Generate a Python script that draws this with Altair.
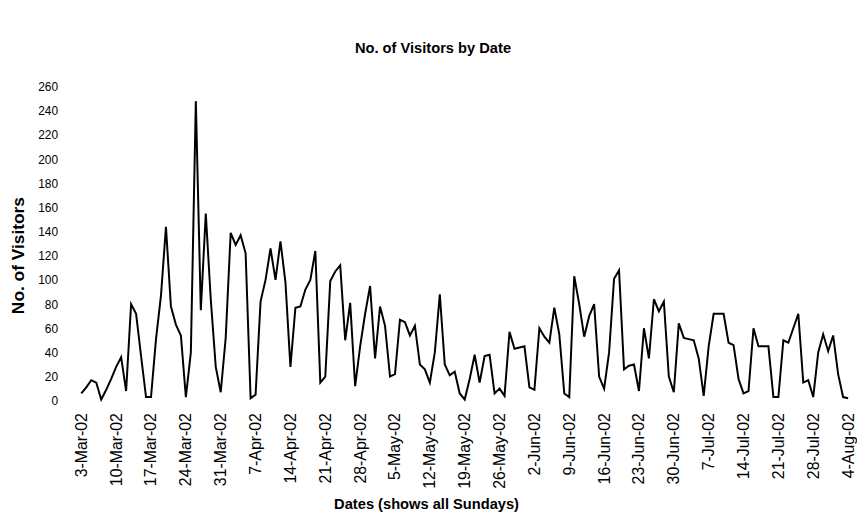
import altair as alt
import pandas as pd

# Daily visitor counts, 3-Mar-2002 .. 4-Aug-2002 (155 days)
visitors = [
    6, 11, 17, 15, 1, 9, 18, 28, 36, 8,          # 3-Mar .. 12-Mar
    80, 72, 37, 3, 3, 51, 87, 144, 78, 63,        # 13-Mar .. 22-Mar
    54, 3, 40, 248, 75, 155, 84, 28, 7, 52,       # 23-Mar .. 1-Apr
    139, 129, 137, 122, 2, 5, 82, 100, 126, 100,  # 2-Apr .. 11-Apr
    132, 98, 28, 77, 78, 92, 100, 124, 15, 20,    # 12-Apr .. 21-Apr
    99, 107, 112, 50, 81, 12, 45, 72, 95, 35,     # 22-Apr .. 1-May
    78, 62, 20, 22, 67, 65, 54, 62, 30, 26,       # 2-May .. 11-May
    15, 40, 88, 30, 21, 24, 6, 1, 18, 38,         # 12-May .. 21-May
    15, 37, 38, 6, 10, 4, 57, 43, 44, 45,         # 22-May .. 31-May
    11, 9, 60, 53, 48, 77, 55, 6, 3, 103,         # 1-Jun .. 10-Jun
    80, 53, 70, 80, 20, 10, 40, 101, 108, 26,     # 11-Jun .. 20-Jun
    29, 30, 8, 60, 35, 84, 74, 82, 20, 7,         # 21-Jun .. 30-Jun
    64, 52, 51, 50, 35, 4, 45, 72, 72, 72,        # 1-Jul .. 10-Jul
    48, 46, 18, 6, 8, 60, 45, 45, 45, 3,          # 11-Jul .. 20-Jul
    3, 50, 48, 60, 72, 15, 17, 3, 40, 55,         # 21-Jul .. 30-Jul
    41, 54, 22, 3, 2,                             # 31-Jul .. 4-Aug
]
day_index = list(range(len(visitors)))

sunday_labels = [
    "3-Mar-02", "10-Mar-02", "17-Mar-02", "24-Mar-02", "31-Mar-02",
    "7-Apr-02", "14-Apr-02", "21-Apr-02", "28-Apr-02", "5-May-02",
    "12-May-02", "19-May-02", "26-May-02", "2-Jun-02", "9-Jun-02",
    "16-Jun-02", "23-Jun-02", "30-Jun-02", "7-Jul-02", "14-Jul-02",
    "21-Jul-02", "28-Jul-02", "4-Aug-02",
]
sunday_positions = [7 * i for i in range(len(sunday_labels))]
y_ticks = list(range(0, 261, 20))

df = pd.DataFrame({"day": day_index, "visitors": visitors})

label_array = "[" + ",".join("'" + s + "'" for s in sunday_labels) + "]"

FONT = "Liberation Sans"

chart = (
    alt.Chart(df)
    .mark_line(color="black", strokeWidth=2)
    .encode(
        x=alt.X(
            "day:Q",
            scale=alt.Scale(domain=[0, 154], nice=False, zero=False),
            axis=alt.Axis(
                values=sunday_positions,
                labelExpr=label_array + "[round(datum.value/7)]",
                labelAngle=-90,
                labelFontSize=16,
                labelFont=FONT,
                labelColor="black",
                labelPadding=12,
                labelOverlap=False,
                labelBound=False,
                labelFlush=False,
                ticks=False,
                domain=False,
                grid=False,
                title="Dates (shows all Sundays)",
                titleFont=FONT,
                titleFontSize=14.8,
                titleFontWeight="bold",
                titleColor="black",
                titlePadding=8,
                titleX=348,
                titleAlign="center",
            ),
        ),
        y=alt.Y(
            "visitors:Q",
            scale=alt.Scale(domain=[0, 260], nice=False),
            axis=alt.Axis(
                values=y_ticks,
                labelFontSize=12,
                labelFont=FONT,
                labelColor="black",
                labelPadding=24,
                ticks=False,
                domain=False,
                grid=False,
                title="No. of Visitors",
                titleFont=FONT,
                titleFontSize=17.5,
                titleFontWeight="bold",
                titleColor="black",
                titlePadding=10,
                titleY=170,
                titleAlign="center",
            ),
        ),
    )
    .properties(
        width=774,
        height=317,
        background="white",
        title=alt.TitleParams(
            "No. of Visitors by Date",
            font=FONT,
            fontSize=14.8,
            fontWeight="bold",
            color="black",
            anchor="middle",
            frame="bounds",
            offset=25,
        ),
        autosize=alt.AutoSizeParams(type="none"),
        padding={"left": 74, "top": 77, "right": 9, "bottom": 114},
    )
    .configure_view(stroke=None)
)

chart.save("out.html", embed_options={"renderer": "svg", "actions": False})
